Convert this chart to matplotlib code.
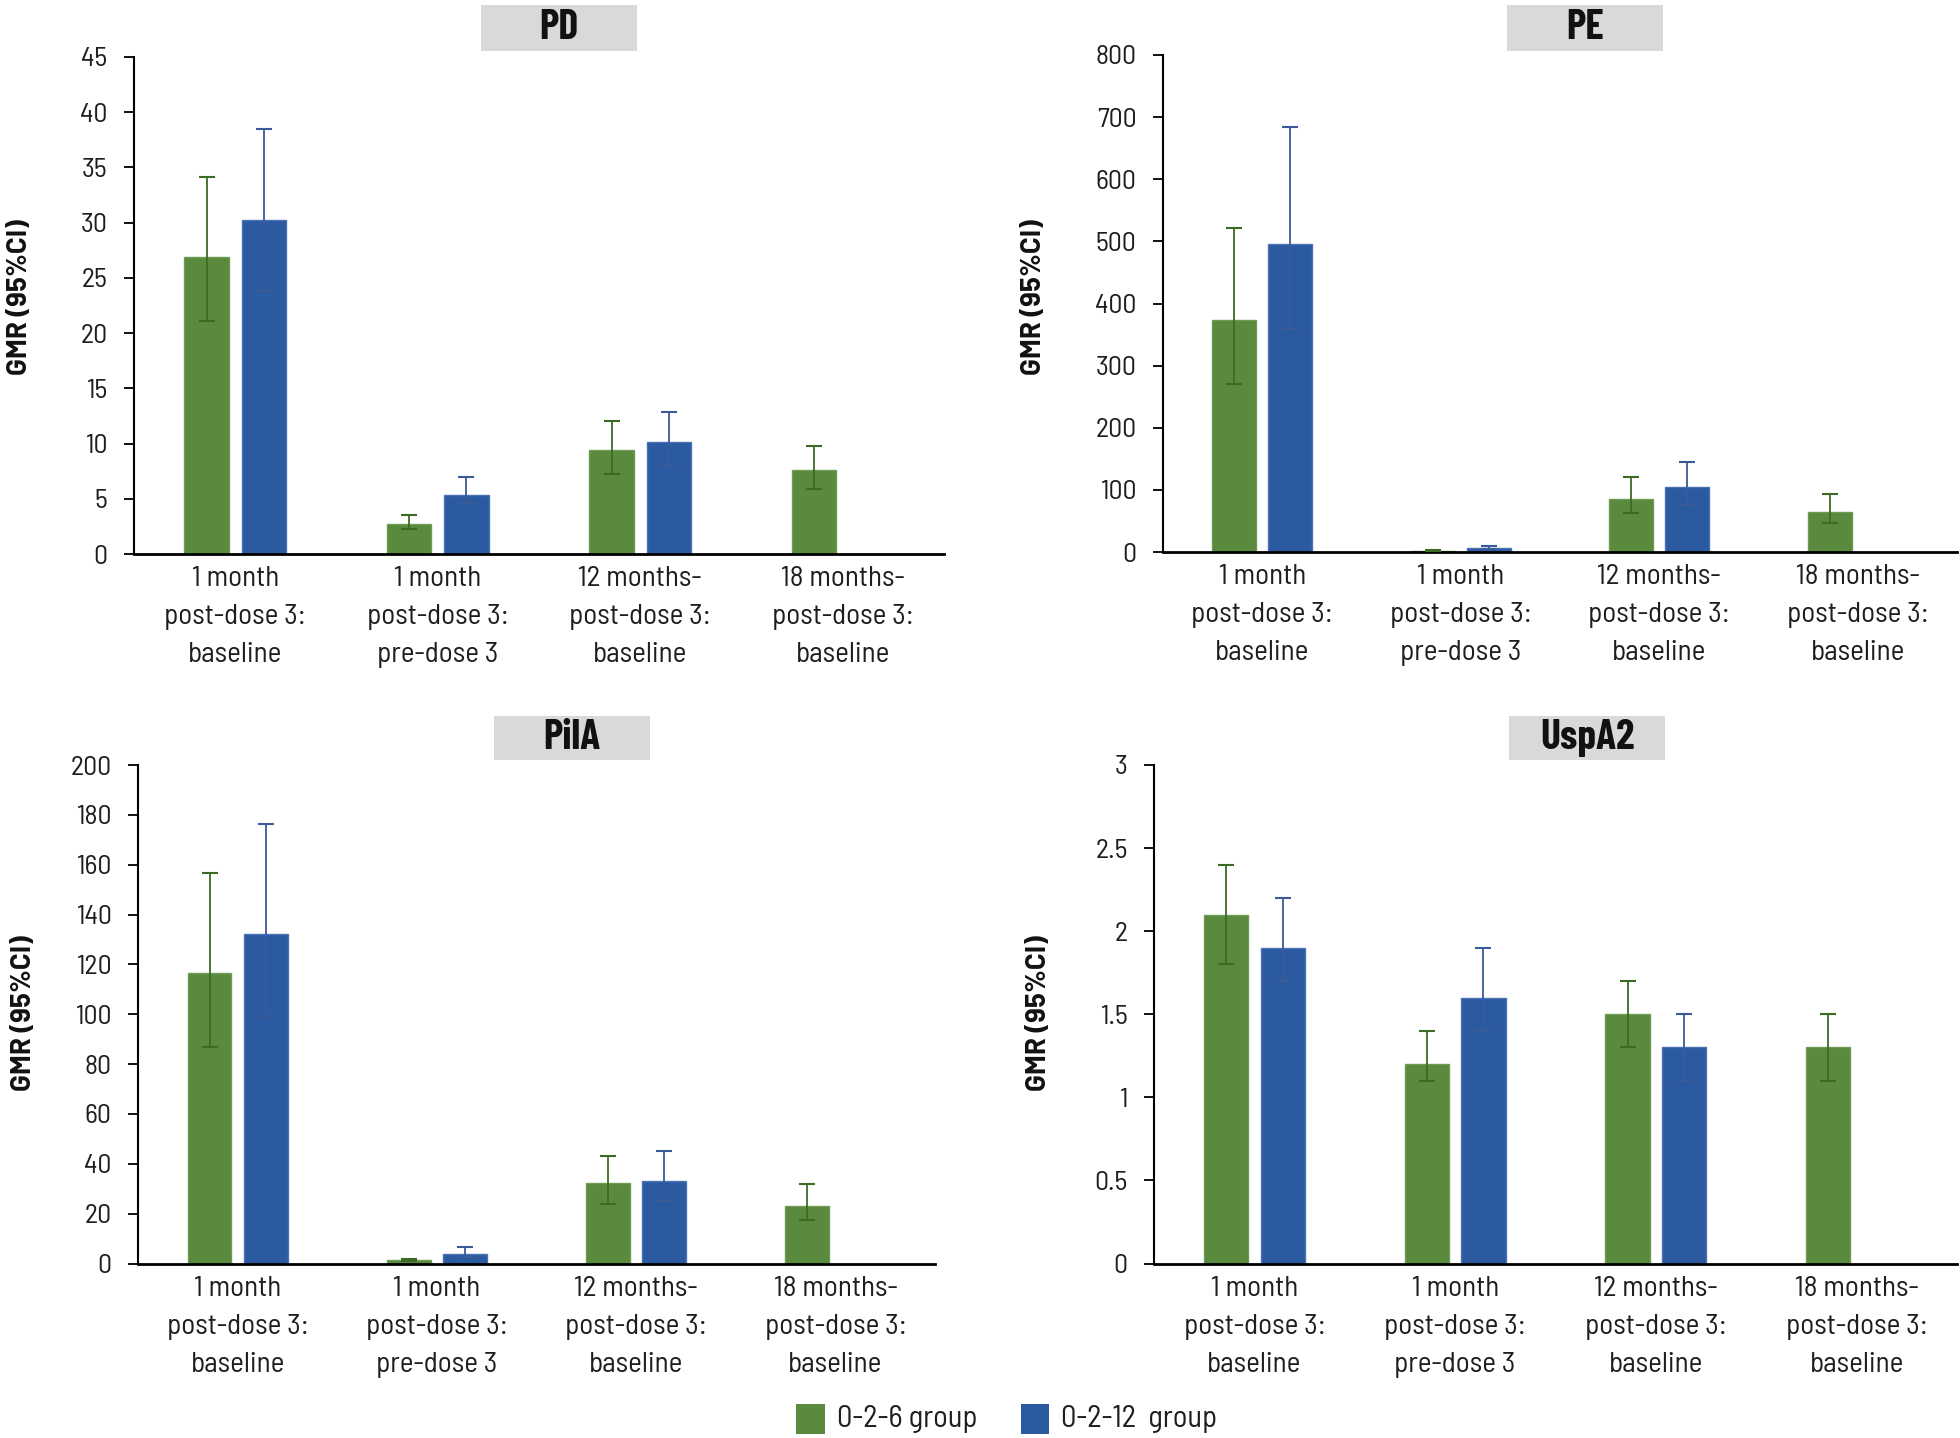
import matplotlib
matplotlib.use("Agg")
import matplotlib.pyplot as plt
from matplotlib.patches import Rectangle
from matplotlib.ticker import FuncFormatter
import numpy as np

plt.rcParams['font.family'] = ['Barlow Semi Condensed', 'DejaVu Sans']

# ---------------- data ----------------
categories = ["1 month\npost-dose 3:\nbaseline",
              "1 month\npost-dose 3:\npre-dose 3",
              "12 months-\npost-dose 3:\nbaseline",
              "18 months-\npost-dose 3:\nbaseline"]
series_names = ["0-2-6 group", "0-2-12  group"]
panel_titles = ["PD", "PE", "PilA", "UspA2"]

pd_g = [26.9, 2.7, 9.4, 7.6]
pd_g_lo = [21.1, 2.3, 7.2, 5.9]
pd_g_hi = [34.1, 3.5, 12.0, 9.8]
pd_b = [30.2, 5.3, 10.1]
pd_b_lo = [23.8, 4.6, 8.0]
pd_b_hi = [38.5, 7.0, 12.9]

pe_g = [374, 2, 85, 65]
pe_g_lo = [270, 1.5, 62, 47]
pe_g_hi = [521, 3, 121, 93]
pe_b = [496, 7, 104]
pe_b_lo = [359, 5, 75]
pe_b_hi = [684, 10, 145]

pila_g = [116.6, 1.5, 32.1, 23.1]
pila_g_lo = [86.9, 1.0, 23.9, 17.3]
pila_g_hi = [156.5, 2.0, 43.0, 32.0]
pila_b = [132.2, 4.0, 33.2]
pila_b_lo = [99.4, 2.5, 25.2]
pila_b_hi = [176.5, 6.5, 45.0]

usp_g = [2.1, 1.2, 1.5, 1.3]
usp_g_lo = [1.8, 1.1, 1.3, 1.1]
usp_g_hi = [2.4, 1.4, 1.7, 1.5]
usp_b = [1.9, 1.6, 1.3]
usp_b_lo = [1.7, 1.4, 1.1]
usp_b_hi = [2.2, 1.9, 1.5]

y_max = [45, 800, 200, 3]
y_step = [5, 100, 20, 0.5]

# ---------------- style ----------------
W, H = 1960, 1438
GREEN = "#5a8a3d"
BLUE = "#2c5aa0"
GREEN_ERR = "#3d6b25"
BLUE_ERR = "#3b5b98"
TITLE_BG = "#d9d9d9"
TXT = "#1e1e1e"

fig = plt.figure(figsize=(W / 100, H / 100), dpi=100)
fig.patch.set_facecolor("white")


def fx(x):
    return x / W


def fy(y):
    return 1 - y / H


# axes rectangles in pixels: left, top, right, bottom
axes_px = [(134, 57, 944, 554),
           (1163, 55, 1957, 552),
           (138, 765, 935, 1263.5),
           (1154, 765, 1957, 1263.5)]
title_px = [(481, 5, 637, 51),
            (1507, 5, 1663, 51),
            (494, 716, 650, 760),
            (1509, 716, 1665, 760)]
ylabel_px = [(19, 297), (1033, 297), (23, 1013), (1038, 1013)]

panel_data = [
    (pd_g, pd_g_lo, pd_g_hi, pd_b, pd_b_lo, pd_b_hi),
    (pe_g, pe_g_lo, pe_g_hi, pe_b, pe_b_lo, pe_b_hi),
    (pila_g, pila_g_lo, pila_g_hi, pila_b, pila_b_lo, pila_b_hi),
    (usp_g, usp_g_lo, usp_g_hi, usp_b, usp_b_lo, usp_b_hi),
]

bw = 0.22
off = 0.141

for i in range(4):
    l, t, r, b = axes_px[i]
    ax = fig.add_axes([fx(l), fy(b), (r - l) / W, (b - t) / H])
    g, glo, ghi, bl, blo, bhi = panel_data[i]
    xg = np.arange(len(g)) - off
    xb = np.arange(len(bl)) + off
    g = np.array(g); glo = np.array(glo); ghi = np.array(ghi)
    bl = np.array(bl); blo = np.array(blo); bhi = np.array(bhi)
    ax.bar(xg, g, width=bw, color=GREEN, edgecolor="#6f9c55", linewidth=1, zorder=2)
    ax.bar(xb, bl, width=bw, color=BLUE, edgecolor="#4a72b5", linewidth=1, zorder=2)
    ax.errorbar(xg, g, yerr=[g - glo, ghi - g], fmt="none", ecolor=GREEN_ERR,
                elinewidth=1.3, capsize=5.5, capthick=1.5, zorder=3)
    ax.errorbar(xb, bl, yerr=[bl - blo, bhi - bl], fmt="none", ecolor=BLUE_ERR,
                elinewidth=1.3, capsize=5.5, capthick=1.5, zorder=3)

    ax.set_xlim(-0.5, 3.5)
    ax.set_ylim(0, y_max[i])
    ax.set_yticks(np.arange(0, y_max[i] + y_step[i] / 2, y_step[i]))
    ax.yaxis.set_major_formatter(FuncFormatter(lambda v, p: f"{v:g}"))
    ax.set_xticks(range(len(categories)))
    ax.set_xticklabels(categories, fontsize=21, linespacing=1.6, color=TXT)
    ax.tick_params(axis="x", length=0, pad=9)
    ax.tick_params(axis="y", length=7, width=1.3, pad=12, labelsize=20,
                   labelcolor=TXT, direction="out")
    for s in ["top", "right"]:
        ax.spines[s].set_visible(False)
    ax.spines["left"].set_linewidth(1.5)
    ax.spines["bottom"].set_linewidth(2.0)
    ax.set_facecolor("none")

    # title box
    tl, tt, tr, tb = title_px[i]
    fig.add_artist(Rectangle((fx(tl), fy(tb)), (tr - tl) / W, (tb - tt) / H,
                             transform=fig.transFigure, facecolor=TITLE_BG,
                             edgecolor="none"))
    fig.text(fx((tl + tr) / 2), fy((tt + tb) / 2), panel_titles[i],
             ha="center", va="center", fontsize=30, fontweight="bold",
             family=["Barlow Condensed", "DejaVu Sans"], color="#111111")

    # y label
    yx, yy = ylabel_px[i]
    fig.text(fx(yx), fy(yy), "GMR (95%CI)", rotation=90, ha="center",
             va="center", fontsize=20, fontweight="bold",
             family=["Barlow", "DejaVu Sans"], color="#111111")

# legend
leg_px = [(796, 1404, 825, 1434, 837), (1021, 1404, 1049, 1434, 1061)]
leg_colors = [GREEN, BLUE]
for (l, t, r, b, tx), c, name in zip(leg_px, leg_colors, series_names):
    fig.add_artist(Rectangle((fx(l), fy(b)), (r - l) / W, (b - t) / H,
                             transform=fig.transFigure, facecolor=c,
                             edgecolor="none"))
    fig.text(fx(tx), fy((t + b) / 2), name, ha="left", va="center",
             fontsize=22, color=TXT)

fig.savefig("out.png", dpi=100)
